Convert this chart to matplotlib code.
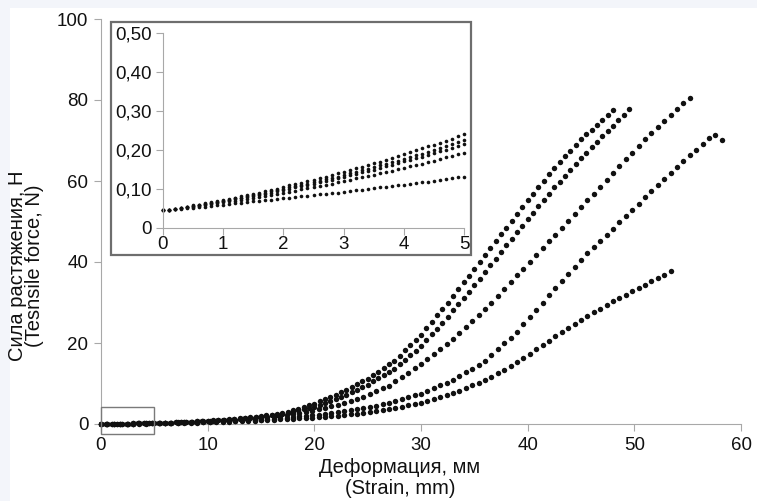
import numpy as np
import matplotlib

matplotlib.use("Agg")
import matplotlib.pyplot as plt
from matplotlib.patches import Rectangle

plt.rcParams["font.family"] = ["Liberation Sans", "DejaVu Sans"]

# --- main chart: tensile force (N) logged at a constant strain step (mm) ---
STEP_A = 0.5
FORCE_A = [
    0.05, 0.064, 0.078, 0.092, 0.106, 0.12, 0.144, 0.168, 0.192, 0.216,
    0.24, 0.282, 0.324, 0.366, 0.408, 0.45, 0.52, 0.59, 0.66, 0.73,
    0.80, 0.89, 0.98, 1.07, 1.16, 1.25, 1.38, 1.51, 1.64, 1.77,
    1.90, 2.12, 2.34, 2.56, 2.78, 3.0, 3.4, 3.8, 4.2, 4.6,
    5.0, 5.56, 6.12, 6.68, 7.24, 7.8, 8.48, 9.16, 9.84, 10.52,
    11.2, 12.08, 12.96, 13.84, 14.72, 15.6, 16.88, 18.16, 19.44, 20.72,
    22.0, 23.6, 25.2, 26.8, 28.4, 30.0, 31.66, 33.32, 34.98, 36.64,
    38.3, 40.0, 41.7, 43.4, 45.1, 46.8, 48.5, 50.2, 51.9, 53.6,
    55.3, 56.9, 58.5, 60.1, 61.7, 63.3, 64.7, 66.1, 67.5, 68.9,
    70.3, 71.5, 72.7, 73.9, 75.0, 76.2, 77.5,
]

STEP_B = 0.5
FORCE_B = [
    0.05, 0.062, 0.074, 0.086, 0.098, 0.11, 0.132, 0.154, 0.176, 0.198,
    0.22, 0.26, 0.30, 0.34, 0.38, 0.42, 0.486, 0.552, 0.618, 0.684,
    0.75, 0.836, 0.922, 1.008, 1.094, 1.18, 1.304, 1.428, 1.552, 1.676,
    1.8, 1.98, 2.16, 2.34, 2.52, 2.7, 3.02, 3.34, 3.66, 3.98,
    4.3, 4.76, 5.22, 5.68, 6.14, 6.6, 7.22, 7.84, 8.46, 9.08,
    9.7, 10.5, 11.3, 12.1, 12.9, 13.7, 14.8, 15.9, 17.0, 18.1,
    19.2, 20.66, 22.12, 23.58, 25.04, 26.5, 28.04, 29.58, 31.12, 32.66,
    34.2, 35.86, 37.52, 39.18, 40.84, 42.5, 44.12, 45.74, 47.36, 48.98,
    50.6, 52.16, 53.72, 55.28, 56.84, 58.4, 59.84, 61.28, 62.72, 64.16,
    65.6, 66.96, 68.32, 69.68, 71.04, 72.4, 73.7, 75.0, 76.3, 77.7,
]

STEP_C = 0.6
FORCE_C = [
    0.05, 0.064, 0.078, 0.092, 0.106, 0.12, 0.15, 0.18, 0.21, 0.24,
    0.27, 0.326, 0.382, 0.438, 0.494, 0.55, 0.63, 0.71, 0.79, 0.87,
    0.95, 1.06, 1.17, 1.28, 1.39, 1.5, 1.68, 1.86, 2.04, 2.22,
    2.4, 2.7, 3.0, 3.3, 3.6, 3.9, 4.34, 4.78, 5.22, 5.66,
    6.1, 6.78, 7.46, 8.14, 8.82, 9.5, 10.56, 11.62, 12.68, 13.74,
    14.8, 16.02, 17.24, 18.46, 19.68, 20.9, 22.38, 23.86, 25.34, 26.82,
    28.3, 29.98, 31.66, 33.34, 35.02, 36.7, 38.38, 40.06, 41.74, 43.42,
    45.1, 46.78, 48.46, 50.14, 51.82, 53.5, 55.2, 56.9, 58.6, 60.3,
    62.0, 63.66, 65.32, 66.98, 68.64, 70.3, 71.82, 73.34, 74.86, 76.38,
    77.9, 79.25, 80.6,
]

STEP_D = 0.6
FORCE_D = [
    0.05, 0.062, 0.074, 0.086, 0.098, 0.11, 0.138, 0.166, 0.194, 0.222,
    0.25, 0.294, 0.338, 0.382, 0.426, 0.47, 0.528, 0.586, 0.644, 0.702,
    0.76, 0.828, 0.896, 0.964, 1.032, 1.1, 1.22, 1.34, 1.46, 1.58,
    1.7, 1.86, 2.02, 2.18, 2.34, 2.5, 2.72, 2.94, 3.16, 3.38,
    3.6, 3.92, 4.24, 4.56, 4.88, 5.2, 5.66, 6.12, 6.58, 7.04,
    7.5, 8.18, 8.86, 9.54, 10.22, 10.9, 11.82, 12.74, 13.66, 14.58,
    15.5, 16.96, 18.42, 19.88, 21.34, 22.8, 24.6, 26.4, 28.2, 30.0,
    31.8, 33.56, 35.32, 37.08, 38.84, 40.6, 42.12, 43.64, 45.16, 46.68,
    48.2, 49.76, 51.32, 52.88, 54.44, 56.0, 57.5, 59.0, 60.5, 62.0,
    63.5, 64.92, 66.34, 67.76, 69.18, 70.6, 71.4, 70.2,
]

STEP_E = 0.6
FORCE_E = [
    0.05, 0.058, 0.066, 0.074, 0.082, 0.09, 0.106, 0.122, 0.138, 0.154,
    0.17, 0.202, 0.234, 0.266, 0.298, 0.33, 0.38, 0.43, 0.48, 0.53,
    0.58, 0.644, 0.708, 0.772, 0.836, 0.9, 0.98, 1.06, 1.14, 1.22,
    1.3, 1.4, 1.5, 1.6, 1.7, 1.8, 1.94, 2.08, 2.22, 2.36,
    2.5, 2.72, 2.94, 3.16, 3.38, 3.6, 3.94, 4.28, 4.62, 4.96,
    5.3, 5.76, 6.22, 6.68, 7.14, 7.6, 8.24, 8.88, 9.52, 10.16,
    10.8, 11.68, 12.56, 13.44, 14.32, 15.2, 16.28, 17.36, 18.44, 19.52,
    20.6, 21.64, 22.68, 23.72, 24.76, 25.8, 26.7, 27.6, 28.5, 29.4,
    30.3, 31.12, 31.94, 32.76, 33.58, 34.4, 35.2, 36.0, 36.9, 37.7,
]

# --- inset: first 5 mm, finer logging step ---
INSET_STEP = 0.1
INSET_A = [
    .045, .047, .050, .052, .055, .058, .060, .063, .066, .069,
    .072, .075, .078, .081, .084, .088, .091, .094, .098, .101,
    .105, .109, .112, .116, .120, .124, .128, .132, .136, .140,
    .144, .148, .153, .157, .161, .166, .170, .175, .180, .184,
    .189, .194, .199, .204, .209, .214, .219, .224, .229, .235, .240,
]
INSET_B = [
    .045, .047, .050, .052, .054, .057, .059, .062, .064, .067,
    .070, .073, .076, .078, .081, .084, .088, .091, .094, .097,
    .100, .104, .107, .111, .114, .118, .121, .125, .129, .132,
    .136, .140, .144, .148, .152, .156, .161, .165, .169, .173,
    .178, .182, .187, .191, .196, .201, .205, .210, .215, .220, .225,
]
INSET_C = [
    .045, .047, .049, .051, .054, .056, .058, .061, .063, .066,
    .069, .071, .074, .077, .079, .082, .085, .088, .091, .094,
    .097, .100, .104, .107, .110, .114, .117, .121, .124, .128,
    .131, .135, .139, .143, .146, .150, .154, .158, .162, .166,
    .171, .175, .179, .183, .188, .192, .197, .201, .206, .210, .215,
]
INSET_D = [
    .045, .047, .049, .051, .053, .055, .057, .059, .061, .063,
    .066, .068, .070, .073, .075, .078, .080, .083, .085, .088,
    .091, .093, .096, .099, .102, .105, .108, .111, .114, .117,
    .120, .123, .127, .130, .133, .137, .140, .144, .147, .151,
    .154, .158, .162, .165, .169, .173, .177, .181, .185, .189, .193,
]
INSET_E = [
    .045, .046, .048, .049, .051, .052, .054, .055, .057, .058,
    .060, .062, .063, .065, .066, .068, .070, .071, .073, .074,
    .076, .078, .079, .081, .083, .084, .086, .088, .090, .091,
    .093, .095, .097, .098, .100, .102, .104, .106, .107, .109,
    .111, .113, .115, .117, .119, .121, .124, .126, .128, .130, .132,
]

MAIN_SERIES = [(STEP_A, FORCE_A), (STEP_B, FORCE_B), (STEP_C, FORCE_C),
               (STEP_D, FORCE_D), (STEP_E, FORCE_E)]
INSET_SERIES = [INSET_A, INSET_B, INSET_C, INSET_D, INSET_E]

X_TICKS = [0, 10, 20, 30, 40, 50, 60]
Y_TICKS = [0, 20, 40, 60, 80, 100]
INSET_X_TICKS = [0, 1, 2, 3, 4, 5]
INSET_Y_TICKS = [0, 0.1, 0.2, 0.3, 0.4, 0.5]
INSET_Y_LABELS = ["0", "0,10", "0,20", "0,30", "0,40", "0,50"]

INK = "#111111"
AXIS = "#a8a8a8"
W, H = 757, 501

fig = plt.figure(figsize=(W / 100, H / 100), dpi=100, facecolor="#f3f5fa")
fig.patches.append(Rectangle((10 / W, 0), 1, 1 - 7.5 / H,
                             transform=fig.transFigure, facecolor="white",
                             edgecolor="none", zorder=-5))

ax = fig.add_axes([101 / W, 1 - 424 / H, 640 / W, 405 / H])
ax.patch.set_visible(False)
for step, force in MAIN_SERIES:
    x = np.arange(len(force)) * step
    ax.plot(x, force, "o", ms=3.9, color=INK, mec="none", clip_on=False,
            zorder=3)
ax.set_xlim(0, 60)
ax.set_ylim(0, 100)
ax.set_xticks(X_TICKS)
ax.set_yticks(Y_TICKS)
ax.spines[["top", "right"]].set_visible(False)
ax.spines[["left", "bottom"]].set_color(AXIS)
ax.tick_params(direction="out", length=5, color=AXIS, labelsize=13.5,
               labelcolor=INK, pad=4)
# frame marking the zoomed region
ax.add_patch(Rectangle((0, -2.5), 5, 6.7, fill=False, ec="#7a7a7a", lw=1,
                       clip_on=False, zorder=4))

fig.text(400 / W, 1 - 478 / H, "Деформация, мм\n(Strain, mm)",
         ha="center", va="center", multialignment="center",
         fontsize=14.5, linespacing=1.15, color=INK)
fig.text(26 / W, 1 - 266 / H, "Сила растяжения, Н\n(Tesnsile force, N)",
         ha="center", va="center", multialignment="center", rotation=90,
         fontsize=14.5, linespacing=0.9, color=INK)

# inset chart area
fig.patches.append(Rectangle((111 / W, 1 - 255 / H), 360 / W, 233 / H,
                             transform=fig.transFigure, facecolor="white",
                             edgecolor="#6e6e6e", lw=1.6, zorder=3))
ins = fig.add_axes([163 / W, 1 - 228 / H, 301 / W, 195 / H])
ins.set_zorder(5)
ins.patch.set_visible(False)
for force in INSET_SERIES:
    x = np.arange(len(force)) * INSET_STEP
    ins.plot(x, force, "o", ms=2.6, color=INK, mec="none", clip_on=False)
ins.set_xlim(0, 5)
ins.set_ylim(0, 0.5)
ins.set_xticks(INSET_X_TICKS)
ins.set_yticks(INSET_Y_TICKS)
ins.set_yticklabels(INSET_Y_LABELS)
ins.spines[["top", "right"]].set_visible(False)
ins.spines[["left", "bottom"]].set_color(AXIS)
ins.tick_params(direction="out", length=5, color=AXIS, labelsize=13.5,
                labelcolor=INK)
ins.tick_params(axis="x", pad=1)
ins.tick_params(axis="y", pad=3)

fig.savefig("out.png", dpi=100, facecolor=fig.get_facecolor())
